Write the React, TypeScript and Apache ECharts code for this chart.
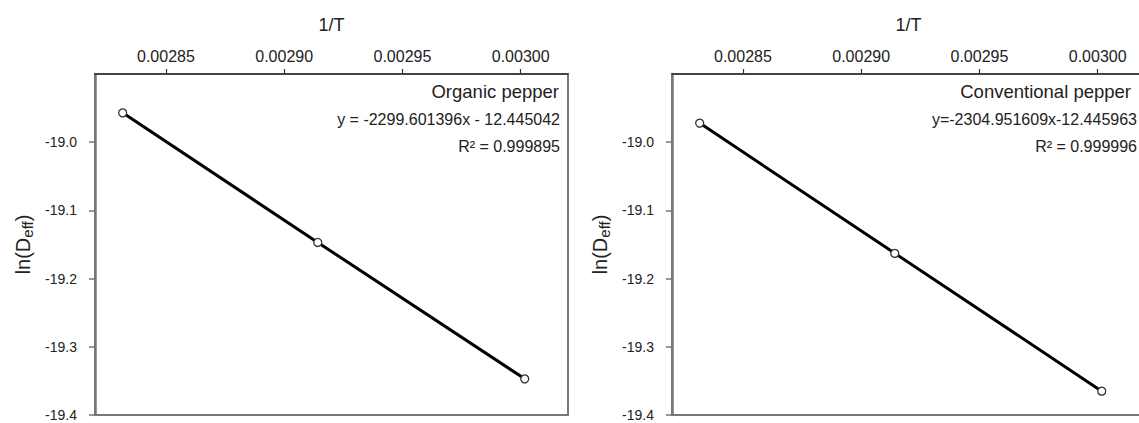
import React, { useEffect, useRef } from "react";
import * as echarts from "echarts";

// Tick values
const xTicks = [0.00285, 0.0029, 0.00295, 0.003];
const yTicks = [-19.4, -19.3, -19.2, -19.1, -19.0];

// 1/T values (60, 70, 80 °C) and ln(Deff)
const invT = [0.0028317, 0.0029142, 0.0030017];
const organic = [-18.957, -19.147, -19.347];
const conventional = [-18.972, -19.163, -19.365];

const panelTitles = ["Organic pepper", "Conventional pepper"];
const panelEquations = ["y = -2299.601396x - 12.445042", "y=-2304.951609x-12.445963"];
const panelR2 = ["R\u00B2 = 0.999895", "R\u00B2 = 0.999996"];

export default function App() {
  const ref = useRef<HTMLDivElement>(null);
  useEffect(() => {
    const chart = echarts.init(ref.current!, null, { renderer: "svg" });
    const font = "'Liberation Sans', Arial, sans-serif";
    const lefts = [95, 672];
    const gridW = 473;
    const gridTop = 74;
    const gridH = 341;
    const seriesData = [organic, conventional];

    const grids = lefts.map((l) => ({
      left: l,
      top: gridTop,
      width: gridW,
      height: gridH,
      show: true,
      borderColor: "#777",
      borderWidth: 2,
      backgroundColor: "transparent",
      containLabel: false,
      outerBoundsMode: "none",
    }));

    const xAxes = lefts.map((_, i) => ({
      type: "value",
      gridIndex: i,
      position: "top",
      min: 0.00282,
      max: 0.00302,
      name: "1/T",
      nameLocation: "middle",
      nameGap: 40,
      nameTextStyle: { fontFamily: font, fontSize: 18, color: "#222" },
      axisLine: { show: true, lineStyle: { color: "#333", width: 1.5 } },
      axisTick: { show: true, inside: false, length: 5, customValues: xTicks, lineStyle: { color: "#333", width: 1.2 } },
      axisLabel: {
        show: true,
        customValues: xTicks,
        margin: 10,
        fontFamily: font,
        fontSize: 16,
        color: "#222",
        formatter: (v: number) => v.toFixed(5),
      },
      splitLine: { show: false },
    }));

    const yAxes = lefts.map((_, i) => ({
      type: "value",
      gridIndex: i,
      position: "left",
      min: -19.4,
      max: -18.9,
      name: "{a|ln(D}{b|eff}{a|)}",
      nameLocation: "middle",
      nameRotate: 90,
      nameGap: 60,
      nameTextStyle: {
        fontFamily: font,
        fontSize: 20,
        color: "#222",
        rich: {
          a: { fontFamily: font, fontSize: 20, color: "#222", lineHeight: 24, verticalAlign: "middle" },
          b: { fontFamily: font, fontSize: 15, color: "#222", lineHeight: 24, verticalAlign: "bottom", padding: [9, 0, 0, 0] },
        },
      },
      axisLine: { show: true, lineStyle: { color: "#777", width: 2.5 } },
      axisTick: { show: true, inside: false, length: 6, customValues: yTicks, lineStyle: { color: "#777", width: 1.5 } },
      axisLabel: {
        show: true,
        customValues: yTicks,
        margin: 18,
        fontFamily: font,
        fontSize: 14,
        color: "#222",
        formatter: (v: number) => v.toFixed(1),
      },
      splitLine: { show: false },
    }));

    const series = seriesData.map((d, i) => ({
      type: "line",
      xAxisIndex: i,
      yAxisIndex: i,
      data: invT.map((x, j) => [x, d[j]]),
      symbol: "circle",
      symbolSize: 8,
      showSymbol: true,
      lineStyle: { color: "#000", width: 3 },
      itemStyle: { color: "#fff", borderColor: "#333", borderWidth: 1.3 },
      z: 3,
    }));

    const textStyle = (text: string, size: number) => ({
      text,
      fontFamily: font,
      fontSize: size,
      fill: "#222",
      align: "right",
      verticalAlign: "middle",
    });

    const rightEdges = [560, 1137];
    const titleRight = [559, 1131];
    const graphic: any[] = [];
    lefts.forEach((_, i) => {
      graphic.push({ type: "text", x: titleRight[i], y: 91, style: textStyle(panelTitles[i], 18.5), z: 10 });
      graphic.push({ type: "text", x: rightEdges[i], y: 119, style: textStyle(panelEquations[i], 16), z: 10 });
      graphic.push({ type: "text", x: rightEdges[i], y: 146, style: textStyle(panelR2[i], 16), z: 10 });
    });

    chart.setOption({
      animation: false,
      backgroundColor: "#fff",
      grid: grids,
      xAxis: xAxes,
      yAxis: yAxes,
      series,
      graphic,
    });
    return () => chart.dispose();
  }, []);
  return (
    <div
      ref={ref}
      style={{ position: "fixed", left: 0, top: 0, width: 1139, height: 423 }}
    />
  );
}
